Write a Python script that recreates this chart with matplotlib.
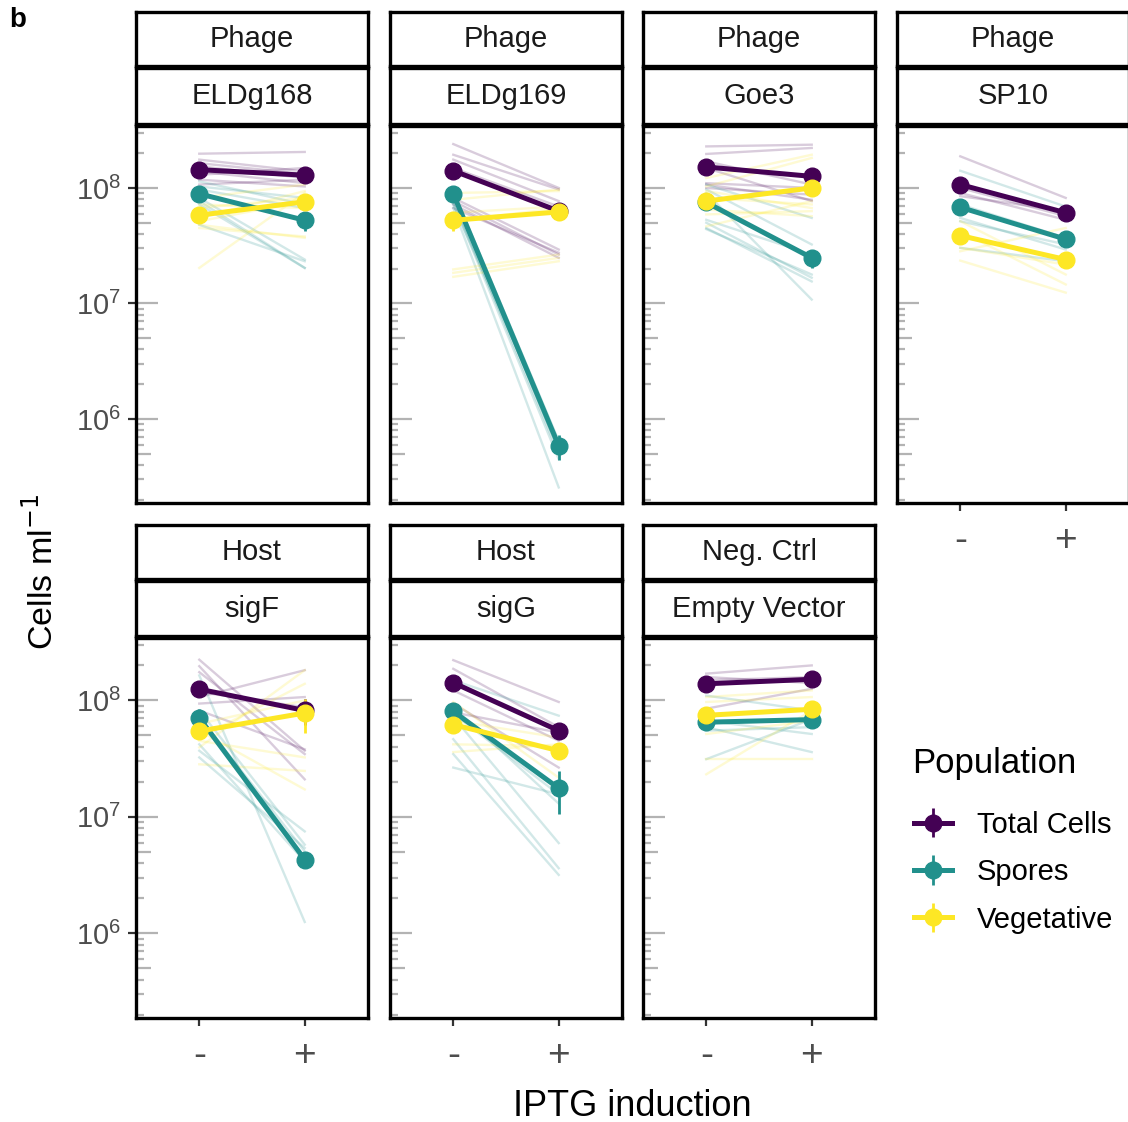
import matplotlib.pyplot as plt
import numpy as np
from matplotlib.transforms import blended_transform_factory
from matplotlib.ticker import NullLocator

plt.rcParams['font.family'] = ['Liberation Sans', 'DejaVu Sans']

# facet labels
groups = ["Phage", "Phage", "Phage", "Phage", "Host", "Host", "Neg. Ctrl"]
panels = ["ELDg168", "ELDg169", "Goe3", "SP10", "sigF", "sigG", "Empty Vector"]
populations = ["Total Cells", "Spores", "Vegetative"]
induction = ["-", "+"]

# group means (IPTG -, IPTG +), cells per ml
mean_total = [(1.44e8, 1.29e8), (1.41e8, 6.3e7), (1.52e8, 1.26e8), (1.07e8, 6.1e7),
              (1.25e8, 8.2e7), (1.42e8, 5.5e7), (1.39e8, 1.52e8)]
mean_spores = [(8.9e7, 5.25e7), (8.9e7, 5.85e5), (7.5e7, 2.48e7), (6.8e7, 3.6e7),
               (7.1e7, 4.3e6), (8.05e7, 1.76e7), (6.5e7, 6.85e7)]
mean_veg = [(5.8e7, 7.6e7), (5.25e7, 6.2e7), (7.7e7, 1.0e8), (3.87e7, 2.4e7),
            (5.45e7, 7.8e7), (6.2e7, 3.7e7), (7.45e7, 8.4e7)]

# standard errors
se_total = [(6e6, 5e6), (7e6, 3e6), (8e6, 6e6), (5e6, 3e6), (8e6, 2e7), (9e6, 4e6), (6e6, 7e6)]
se_spores = [(5e6, 1.0e7), (5e6, 1.4e5), (5e6, 4.5e6), (4e6, 3e6), (1.3e7, 3e5), (6e6, 7e6), (4e6, 5e6)]
se_veg = [(6e6, 6e6), (1e7, 4e6), (6e6, 8e6), (3e6, 2e6), (6e6, 2.5e7), (5e6, 4e6), (6e6, 7e6)]

# individual replicates (IPTG -, IPTG +)
reps_eldg168 = {
    "Total Cells": [(1.98e8, 2.05e8), (1.76e8, 1.39e8), (1.64e8, 1.32e8), (1.54e8, 1.22e8),
                    (1.39e8, 1.10e8), (1.30e8, 1.49e8), (1.18e8, 1.03e8), (1.07e8, 1.18e8)],
    "Spores": [(1.14e8, 7.2e7), (1.03e8, 8.2e7), (9.7e7, 6.7e7), (9.05e7, 5.15e7),
               (8.2e7, 2.4e7), (7.7e7, 2.03e7), (7.2e7, 2.03e7), (4.8e7, 2.32e7)],
    "Vegetative": [(8.2e7, 1.07e8), (7.2e7, 6.7e7), (6.7e7, 8.2e7), (5.5e7, 9.4e7),
                   (5.15e7, 7.7e7), (4.8e7, 3.7e7), (4.5e7, 3.8e7), (2.03e7, 9.1e7)],
}
reps_eldg169 = {
    "Total Cells": [(2.4e8, 1.0e8), (1.94e8, 9.7e7), (1.76e8, 7.7e7), (1.49e8, 6.9e7),
                    (8.2e7, 2.93e7), (7.7e7, 2.65e7), (7.2e7, 2.48e7), (6.7e7, 2.75e7)],
    "Spores": [(9.4e7, 6.46e5), (8.5e7, 5.65e5), (7.9e7, 4.95e5), (7.4e7, 4.48e5),
               (6.7e7, 2.55e5), (8.75e7, 5.29e5), (7.2e7, 6.04e5)],
    "Vegetative": [(9.05e7, 9.4e7), (7.9e7, 9.7e7), (6.1e7, 6.9e7), (5.15e7, 6.7e7),
                   (1.97e7, 2.65e7), (1.84e7, 2.48e7), (1.7e7, 2.32e7)],
}
reps_goe3 = {
    "Total Cells": [(2.29e8, 2.37e8), (1.97e8, 2.22e8), (1.7e8, 1.07e8), (1.1e8, 1.0e8),
                    (1.07e8, 7.9e7), (1.0e8, 8.75e7), (1.49e8, 7.7e7)],
    "Spores": [(1.07e8, 5.5e7), (9.7e7, 3.24e7), (5.3e7, 2.65e7), (5.0e7, 1.67e7),
               (4.5e7, 1.55e7), (9.05e7, 1.08e7), (4.4e7, 1.78e7)],
    "Vegetative": [(1.22e8, 1.94e8), (1.03e8, 1.82e8), (8.2e7, 7.2e7), (5.9e7, 6.3e7),
                   (6.5e7, 5.7e7), (4.65e7, 7.7e7), (9.4e7, 6.7e7)],
}
reps_sp10 = {
    "Total Cells": [(1.88e8, 8.2e7), (1.0e8, 5.7e7), (9.05e7, 5.3e7), (8.5e7, 6.3e7)],
    "Spores": [(1.41e8, 6.9e7), (5.5e7, 2.93e7), (5.15e7, 3.24e7), (3.03e7, 2.32e7), (7.2e7, 3.7e7)],
    "Vegetative": [(2.83e7, 4.5e7), (2.35e7, 1.24e7), (4.2e7, 1.46e7), (5.15e7, 1.78e7), (3.03e7, 2.17e7)],
}
reps_sigf = {
    "Total Cells": [(2.24e8, 3.7e7), (1.97e8, 2.1e7), (1.75e8, 3.46e7), (1.07e8, 1.82e8),
                    (9.4e7, 1.07e8), (1.18e8, 8.75e7), (8.2e7, 3.8e7)],
    "Spores": [(1.64e8, 1.25e6), (8.2e7, 5.77e6), (3.7e7, 7.5e6), (3.24e7, 5.4e6),
               (4.2e7, 4.14e6), (7.2e7, 5.05e6)],
    "Vegetative": [(3.95e7, 1.82e8), (5.5e7, 1.72e7), (4.5e7, 3.24e7), (6.3e7, 1.0e8),
                   (4.8e7, 1.39e8), (2.83e7, 2.48e7)],
}
reps_sigg = {
    "Total Cells": [(2.22e8, 9.7e7), (1.87e8, 5.9e7), (1.22e8, 4.5e7), (9.4e7, 2.65e7), (7.9e7, 5.3e7)],
    "Spores": [(1.49e8, 7.4e7), (7.7e7, 1.56e7), (4.65e7, 3.62e6), (3.46e7, 3.17e6),
               (2.65e7, 1.56e7), (7.2e7, 5.95e6), (8.75e7, 1.3e7)],
    "Vegetative": [(9.7e7, 2.17e7), (4.2e7, 4.05e7), (3.6e7, 4.2e7), (6.7e7, 4.8e7)],
}
reps_empty = {
    "Total Cells": [(1.7e8, 2.0e8), (1.59e8, 1.41e8), (1.49e8, 1.59e8), (8.5e7, 1.26e8)],
    "Spores": [(3.13e7, 6.9e7), (5.9e7, 3.6e7), (6.7e7, 5.15e7), (5.5e7, 5.9e7), (1.1e8, 8.2e7)],
    "Vegetative": [(2.32e7, 8.2e7), (3.13e7, 3.13e7), (1.07e8, 1.22e8), (9.7e7, 1.07e8), (5.15e7, 6.7e7)],
}
replicates = [reps_eldg168, reps_eldg169, reps_goe3, reps_sp10, reps_sigf, reps_sigg, reps_empty]

colors = {"Total Cells": "#440154", "Spores": "#21908C", "Vegetative": "#FDE725"}
means = {"Total Cells": mean_total, "Spores": mean_spores, "Vegetative": mean_veg}
ses = {"Total Cells": se_total, "Spores": se_spores, "Vegetative": se_veg}

W, H = 1128, 1122
fig = plt.figure(figsize=(W / 100, H / 100), dpi=100)


def px_axes(x, y, w, h):
    return fig.add_axes([x / W, 1 - (y + h) / H, w / W, h / H])


col_x = [136, 390, 643, 897]
panel_w = 232
rows = [(12, 54, 68, 56, 126, 377), (525, 54, 581, 55, 638, 380)]
ylim = (1.87e5, 3.44e8)
border = 2.4

handles = []
for i, name in enumerate(panels):
    r, c = divmod(i, 4)
    s1y, s1h, s2y, s2h, py, ph = rows[r]
    x0 = col_x[c]

    # strips
    for sy, sh, txt in [(s1y, s1h, groups[i]), (s2y, s2h, name)]:
        sax = px_axes(x0, sy, panel_w, sh)
        sax.set_xticks([])
        sax.set_yticks([])
        for sp in sax.spines.values():
            sp.set_linewidth(border)
        sax.text(0.5, 0.5, txt, ha="center", va="center", fontsize=21,
                 color="#1a1a1a", transform=sax.transAxes)

    ax = px_axes(x0, py, panel_w, ph)
    ax.set_yscale("log")
    ax.set_ylim(*ylim)
    ax.set_xlim(0.4, 2.6)
    for sp in ax.spines.values():
        sp.set_linewidth(border)

    # log ticks inside the panel
    trans = blended_transform_factory(ax.transAxes, ax.transData)
    for d in range(5, 9):
        for k in range(1, 10):
            v = k * 10.0 ** d
            if ylim[0] <= v <= ylim[1]:
                L = 0.095 if k == 1 else (0.065 if k == 5 else 0.035)
                ax.plot([0, L], [v, v], color="#b3b3b3", lw=1.6, transform=trans,
                        zorder=1, solid_capstyle="butt")

    xs = [1, 2]
    for pop in populations:
        for m, p in replicates[i][pop]:
            ax.plot(xs, [m, p], color=colors[pop], alpha=0.2, lw=1.7, zorder=2)
    for pop in populations:
        h = ax.errorbar(xs, means[pop][i], yerr=ses[pop][i], fmt="-o", color=colors[pop],
                        lw=3.6, ms=12, elinewidth=2, capsize=0, zorder=3)
        if i == 0:
            handles.append(h)

    ax.yaxis.set_minor_locator(NullLocator())
    ax.set_yticks([1e6, 1e7, 1e8])
    ax.tick_params(axis="y", length=5.5, width=1.6, color="#333333",
                   labelcolor="#4d4d4d", labelsize=21, pad=5)
    if c != 0:
        ax.tick_params(axis="y", left=False, labelleft=False)

    ax.set_xticks(xs)
    ax.set_xticklabels(induction)
    ax.tick_params(axis="x", length=5.5, width=1.6, color="#333333",
                   labelcolor="#4d4d4d", labelsize=28, pad=9)
    if i < 3:
        ax.tick_params(axis="x", bottom=False, labelbottom=False)

fig.text(912 / W, 1 - 763 / H, "Population", fontsize=25, ha="left", va="center")
leg = fig.legend(handles, populations, loc="upper left",
                 bbox_to_anchor=(914 / W, 1 - 811 / H), frameon=False, fontsize=21,
                 handlelength=1.3, labelspacing=0.66, borderpad=0, borderaxespad=0,
                 handletextpad=0.85)

fig.text(42 / W, 1 - 572 / H, "Cells ml$^{-1}$", rotation=90, fontsize=24.5,
         ha="center", va="center")
fig.text(632 / W, 1 - 1106 / H, "IPTG induction", fontsize=26, ha="center", va="center")
fig.text(18 / W, 1 - 20 / H, "b", fontsize=20, weight="bold", ha="center", va="center")

fig.savefig("out.png", dpi=100)
